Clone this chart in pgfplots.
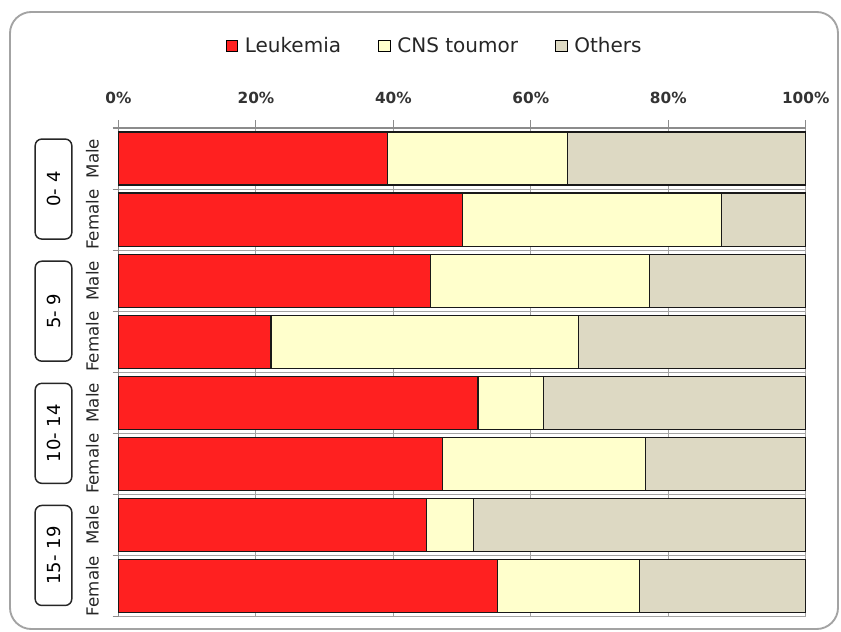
\documentclass[border=0pt]{standalone}
\usepackage{fontspec}
\setmainfont{DejaVu Sans}
\usepackage{pgfplots}
\usepackage{pgfplotstable}
\pgfplotsset{compat=1.18}
\definecolor{cRed}{HTML}{FF2020}
\definecolor{cYel}{HTML}{FFFFCC}
\definecolor{cBei}{HTML}{DDD9C3}
\definecolor{cAx}{HTML}{8C8C8C}

% y = 7 is the top bar (0-4 Male)
\pgfplotstableread{
y leuk cns oth
7 39.1 26.2 34.7
6 50.0 37.7 12.3
5 45.4 31.9 22.7
4 22.2 44.7 33.1
3 52.3 9.6 38.1
2 47.1 29.6 23.3
1 44.8 6.9 48.3
0 55.2 20.6 24.2
}\data

\begin{document}
\begin{tikzpicture}[x=0.75pt,y=-0.75pt]
\useasboundingbox (0,0) rectangle (841,631);
\draw[cAx!80, line width=1.4pt, rounded corners=16pt] (10,12) rectangle (838,629);
\begin{axis}[
  at={(88.875pt,-96pt)}, anchor=north west,
  scale only axis, width=515.4pt, height=366.4pt,
  xbar stacked, bar width=0.87,
  xmin=0, xmax=100, ymin=-0.5, ymax=7.5,
  axis x line*=top, axis y line*=left,
  axis line style={cAx, line width=0.8pt, -},
  tick align=outside,
  major tick length=6pt, minor tick length=4.5pt,
  tick style={cAx, line width=0.8pt},
  xtick={0,20,...,100},
  xticklabel={\pgfmathprintnumber{\tick}\%},
  xticklabel style={font=\bfseries\fontsize{11.5}{12}\selectfont, text=black!80, yshift=9pt},
  /pgf/number format/assume math mode=true,
  xmajorgrids=true,
  major grid style={cAx!80, line width=0.7pt},
  ytick={0,...,7},
  yticklabels={Female,Male,Female,Male,Female,Male,Female,Male},
  major y tick style={draw=none},
  yticklabel style={rotate=90, anchor=center, font=\fontsize{12.5}{13}\selectfont, text=black!85, yshift=13.5pt},
  minor ytick={-0.5,0.5,...,7.5},
  yminorgrids=true,
  minor grid style={cAx!80, line width=0.7pt},
  clip=false,
  legend style={at={(0.4606,1.168)}, anchor=center, draw=none, fill=none,
    legend columns=3, font=\fontsize{15}{16}\selectfont, text=black!85,
    /tikz/every odd column/.append style={column sep=3pt},
    /tikz/every even column/.append style={column sep=26pt}},
  legend image code/.code={\draw[#1, draw=black, line width=0.8pt] (0pt,-4.2pt) rectangle (8.4pt,4.2pt);},
  every axis plot/.append style={draw=black!90, line width=0.9pt},
]
\addplot[fill=cRed] table[x=leuk, y=y] {\data};
\addplot[fill=cYel] table[x=cns, y=y] {\data};
\addplot[fill=cBei] table[x=oth, y=y] {\data};
\legend{Leukemia, CNS toumor, Others}
\foreach \yy/\lab in {6.5/{0- 4}, 4.5/{5- 9}, 2.5/{10- 14}, 0.5/{15- 19}}{
  \edef\tmp{\noexpand\node[draw=black!85, line width=1.1pt, rounded corners=5pt, rotate=90,
    minimum width=75pt, minimum height=27.5pt, inner sep=0pt,
    font=\noexpand\fontsize{13.5}{14}\noexpand\selectfont] at (axis cs:-9.46,\yy) {\lab};}
  \tmp
}
\end{axis}
\end{tikzpicture}
\end{document}
